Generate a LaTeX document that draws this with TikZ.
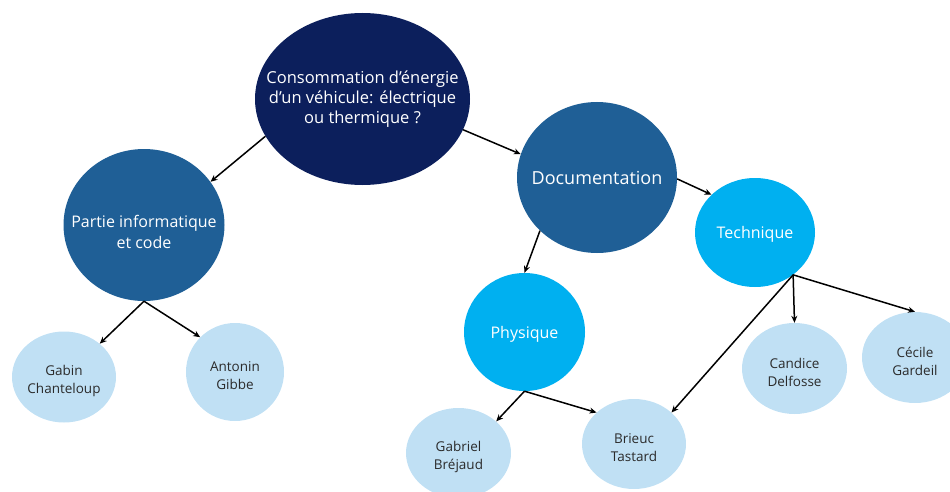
\documentclass[tikz,border=0pt]{standalone}
\usepackage{fontspec}
\setmainfont{Open Sans}
\usepackage{tikz}
\usetikzlibrary{positioning,arrows.meta,shapes.geometric}

\definecolor{navy}{HTML}{0C1F5C}
\definecolor{midblue}{HTML}{1F5F96}
\definecolor{brightblue}{HTML}{00B0F0}
\definecolor{paleblue}{HTML}{C0E0F4}
\definecolor{darktext}{HTML}{2B2B2B}

\tikzset{
  bubble/.style={ellipse,inner sep=0pt},
  caption/.style={align=center,inner sep=0pt},
  rootbubble/.style={bubble,fill=navy},
  topicbubble/.style={bubble,fill=midblue},
  subbubble/.style={bubble,fill=brightblue},
  namebubble/.style={bubble,fill=paleblue},
  rootcap/.style={caption,text=white,font=\fontsize{16.5}{20}\selectfont},
  topiccap/.style={caption,text=white,font=\fontsize{16}{21}\selectfont},
  subcap/.style={caption,text=white,font=\fontsize{16}{19}\selectfont,yshift=-2pt},
  namecap/.style={caption,text=darktext,font=\fontsize{13.5}{18}\selectfont,yshift=-3.5pt},
  link/.style={-{Stealth[length=7pt,width=6pt]},line width=1.5pt}
}

\begin{document}
\begin{tikzpicture}[x=1pt,y=-1pt]

  \useasboundingbox (0,0) rectangle (950,492);

  % Subject
  \node [rootbubble,minimum width=215pt,minimum height=172pt,
    label={[rootcap]center:Consommation d'énergie\\d'un véhicule: électrique\\ou thermique ?}]
    (root) at (362.5,99) {};

  % Main topics
  \node [topicbubble,minimum width=161pt,minimum height=152pt,
    label={[topiccap,yshift=-7pt]center:Partie informatique\\et code}] (info) at (144,225) {};
  \node [topicbubble,minimum width=160pt,minimum height=151pt,
    label={[topiccap,font=\fontsize{18}{21}\selectfont]center:Documentation}] (doc) at (597,177.5) {};

  % Sub topics
  \node [subbubble,minimum width=120pt,minimum height=109pt,
    label={[subcap]center:Technique}] (tech) at (755,232.5) {};
  \node [subbubble,minimum width=121pt,minimum height=118pt,
    label={[subcap]center:Physique}] (phys) at (524.5,332) {};

  % People
  \node [namebubble,minimum width=104pt,minimum height=91pt,
    label={[namecap]center:Gabin\\Chanteloup}] (gabin) at (64,377) {};
  \node [namebubble,minimum width=98pt,minimum height=98pt,
    label={[namecap]center:Antonin\\Gibbe}] (antonin) at (235,372) {};
  \node [namebubble,minimum width=105pt,minimum height=90pt,
    label={[namecap]center:Gabriel\\Bréjaud}] (gabriel) at (458.5,453) {};
  \node [namebubble,minimum width=104pt,minimum height=90pt,
    label={[namecap]center:Brieuc\\Tastard}] (brieuc) at (634,444) {};
  \node [namebubble,minimum width=105pt,minimum height=91pt,
    label={[namecap]center:Candice\\Delfosse}] (candice) at (794.5,368.5) {};
  \node [namebubble,minimum width=106pt,minimum height=91pt,
    label={[namecap]center:Cécile\\Gardeil}] (cecile) at (915,357.5) {};

  % Links from the subject
  \draw [link] (root.201) -- (info.33);
  \draw [link] (root.343) -- (doc.163);

  % Links from the topics
  \draw [link] (doc.359) -- (tech.139);
  \draw [link] (doc.223) -- (phys.north);
  \draw [link] (info.south) -- (gabin.43);
  \draw [link] (info.south) -- (antonin.135);

  % Links to the people
  \draw [link] (phys.south) -- (gabriel.40);
  \draw [link] (phys.south) -- (brieuc.140);
  \coordinate (fork) at (tech.312);
  \draw [link] (fork) -- (brieuc.40);
  \draw [link] (fork) -- (candice.north);
  \draw [link] (fork) -- (cecile.north);

\end{tikzpicture}
\end{document}
